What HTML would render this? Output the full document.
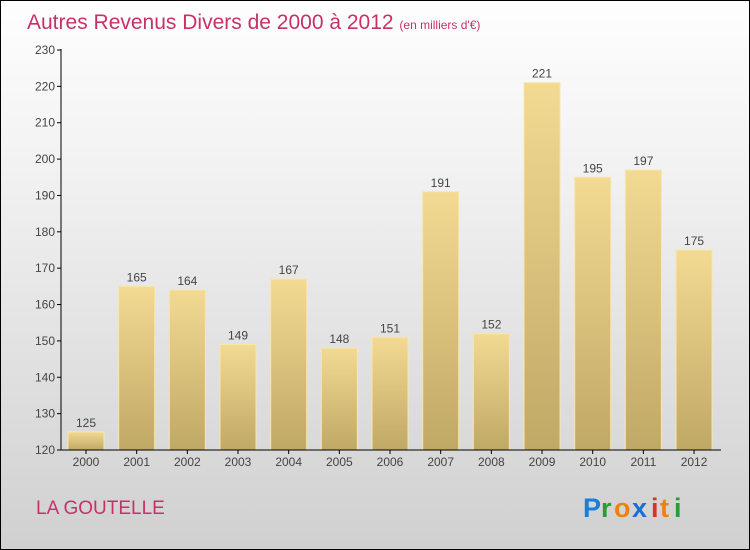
<!DOCTYPE html>
<html><head><meta charset="utf-8"><style>
html,body{margin:0;padding:0}
body{width:750px;height:550px;overflow:hidden;font-family:"Liberation Sans",sans-serif}
#wrap{position:absolute;left:0;top:0;width:748px;height:548px;border:1px solid #000;background:linear-gradient(#fefefe,#f2f2f2 30%,#d0d0d0)}
</style></head><body>
<div id="wrap">
<svg id="svg" width="750" height="550" style="position:absolute;left:-1px;top:-1px">
<defs><linearGradient id="bg" x1="0" y1="0" x2="0" y2="1"><stop offset="0" stop-color="#f3da93"/><stop offset="1" stop-color="#c0a865"/></linearGradient></defs>
<text x="27" y="29" font-size="21" fill="#c8306a">Autres Revenus Divers de 2000 à 2012 <tspan font-size="12">(en milliers d'€)</tspan></text>
<g id="grid"></g>
<g id="bars"></g>
<line x1="61" y1="49" x2="61" y2="450" stroke="#000"/>
<line x1="61" y1="450" x2="721" y2="450" stroke="#000"/>
<text x="36" y="514" font-size="19" fill="#c8306a">LA GOUTELLE</text>
<g font-size="27" font-weight="bold" font-family="Liberation Sans, sans-serif">
<text x="583" y="517" fill="#1a7fd4">P</text><text x="601" y="517" fill="#2a9a3a">r</text><text x="614" y="517" fill="#f08010">o</text><text x="632" y="517" fill="#1a6fd0">x</text><text x="651" y="517" fill="#e03020">i</text><text x="660" y="517" fill="#f08010">t</text><text x="674" y="517" fill="#2a9a3a">i</text>
</g>
</svg>
</div>
<script>
const years=["2000","2001","2002","2003","2004","2005","2006","2007","2008","2009","2010","2011","2012"];
const values=[125,165,164,149,167,148,151,191,152,221,195,197,175];
const yTicks=[120,130,140,150,160,170,180,190,200,210,220,230];
const NS="http://www.w3.org/2000/svg";
const y0=450,y1=50,vMin=120,vMax=230;
const yS=v=>y0-(v-vMin)*(y0-y1)/(vMax-vMin);
const xS=i=>86+i*50.67;
const g=document.getElementById('grid'),b=document.getElementById('bars');
function mk(t,a,p){const e=document.createElementNS(NS,t);for(const k in a)e.setAttribute(k,a[k]);p.appendChild(e);return e;}
yTicks.forEach(v=>{
 const l=mk('line',{x1:57,x2:61,y1:yS(v),y2:yS(v),stroke:'#000'},g);
 
 
 const t=mk('text',{x:55,y:yS(v)+4,'font-size':12,fill:'#444','text-anchor':'end'},g);
 t.textContent=v;
 
 
});
values.forEach((v,i)=>{
 const cx=xS(i);
 const r=mk('rect',{x:cx-18,y:yS(v),width:36,height:y0-yS(v),fill:'url(#bg)',stroke:'#f7e7a8','stroke-width':1},b);
 
 
 const t=mk('text',{x:cx,y:yS(v)-5,'font-size':12,fill:'#444','text-anchor':'middle'},b);
 t.textContent=v;
 
 
 const tk=mk('line',{x1:cx,x2:cx,y1:450,y2:454,stroke:'#000'},b);
 
 
 const xl=mk('text',{x:cx,y:466,'font-size':12,fill:'#444','text-anchor':'middle'},b);
 xl.textContent=years[i];
 
 
});
</script>
</body></html>
